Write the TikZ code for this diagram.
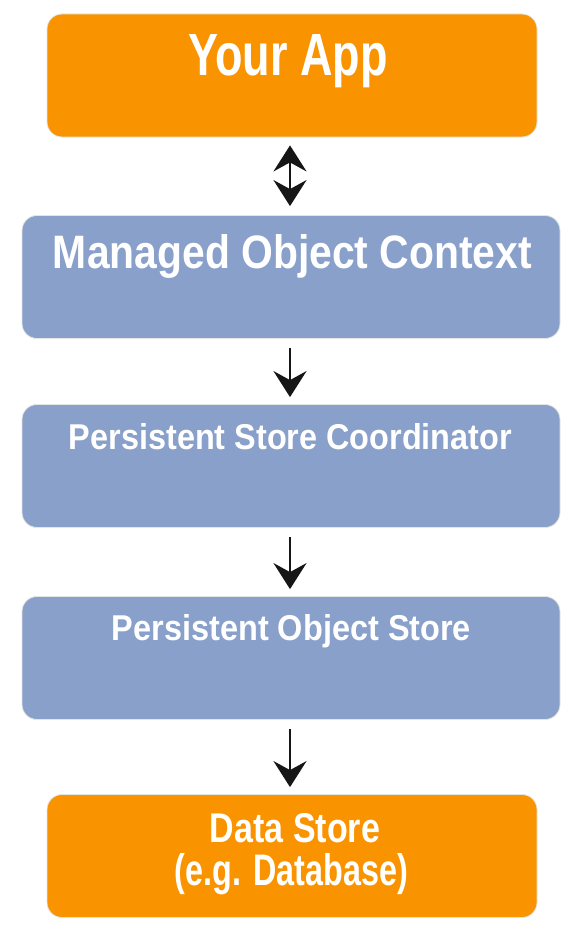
\documentclass[tikz,border=0pt]{standalone}
\usepackage{fontspec}
\setmainfont{Liberation Sans}
\usepackage{graphicx}
\usetikzlibrary{arrows.meta}
\definecolor{appOrange}{RGB}{249,148,0}
\definecolor{appBlue}{RGB}{136,160,202}
\definecolor{arrowInk}{RGB}{22,22,22}
\newcommand\fittext[3]{\resizebox{#1}{#2}{\bfseries #3}}
\tikzset{
  panel/.style={rounded corners=15pt, minimum width=#1, minimum height=123pt,
    inner sep=0pt, draw=white!80!gray, line width=0.8pt},
  orangebox/.style={panel=490pt, fill=appOrange},
  bluebox/.style={panel=538pt, fill=appBlue},
  lbl/.style={anchor=base, inner sep=0pt, outer sep=0pt, text=white},
  headtip/.tip={Stealth[length=26pt,width=33pt,inset=9pt]},
  link/.style={draw=arrowInk, line width=2.8pt, -headtip, shorten <=9pt, shorten >=7pt},
  bilink/.style={draw=arrowInk, line width=2.8pt, headtip-headtip, shorten <=8pt, shorten >=9pt}
}
\begin{document}
\begin{tikzpicture}[x=1pt, y=-1pt]
\useasboundingbox (0,0) rectangle (584,934);
\node[orangebox] (app)  at (292,75.5) {};
\node[bluebox]   (moc)  at (291,277) {};
\node[bluebox]   (psc)  at (291,466) {};
\node[bluebox]   (pos)  at (291,658) {};
\node[orangebox] (data) at (292,856) {};

\node[lbl] (appText) at (288,76) {\fittext{199pt}{41pt}{Your App}};
\node[lbl] (mocText) at (292.5,268) {\fittext{479pt}{34pt}{Managed Object Context}};
\node[lbl] (pscText) at (290.5,449) {\fittext{443pt}{26pt}{Persistent Store Coordinator}};
\node[lbl] (posText) at (291.5,640) {\fittext{359pt}{26pt}{Persistent Object Store}};
\node[lbl] (dataText) at (295,842) {\fittext{170pt}{29pt}{Data Store}};
\node[lbl] (dataText2) at (291.5,885) {\fittext{233pt}{32pt}{(e.g. Database)}};

\draw[bilink] (app.south -| 290,0) -- (moc.north -| 290,0);
\draw[link] (moc.south -| 290,0) -- (psc.north -| 290,0);
\draw[link] (psc.south -| 290,0) -- (pos.north -| 290,0);
\draw[link] (pos.south -| 290,0) -- (data.north -| 290,0);
\end{tikzpicture}
\end{document}
